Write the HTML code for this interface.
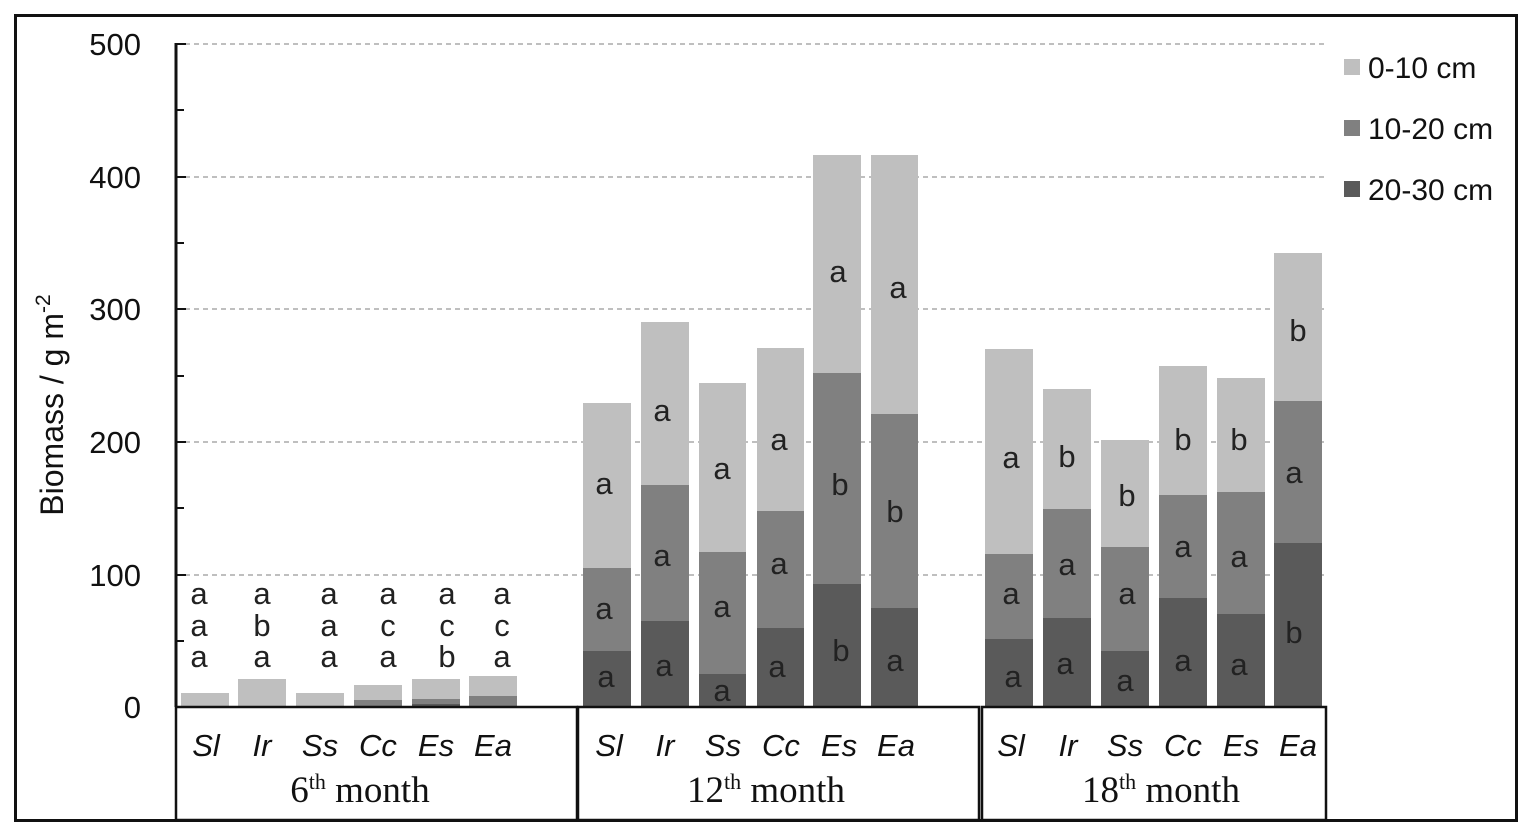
<!DOCTYPE html>
<html><head><meta charset="utf-8"><style>html,body{margin:0;padding:0;background:#fff}svg{display:block}</style></head>
<body>
<svg width="1535" height="837" viewBox="0 0 1535 837" xmlns="http://www.w3.org/2000/svg" font-family="Liberation Sans, sans-serif">
<rect x="15.5" y="15.5" width="1501" height="805" fill="none" stroke="#111" stroke-width="3"/>
<g stroke="#999" stroke-dasharray="5,4" stroke-width="1.2">
<line x1="176" y1="44" x2="1326" y2="44"/><line x1="176" y1="177" x2="1326" y2="177"/><line x1="176" y1="309" x2="1326" y2="309"/><line x1="176" y1="442" x2="1326" y2="442"/><line x1="176" y1="575" x2="1326" y2="575"/>
</g>
<g font-size="31" fill="#111" text-anchor="end">
<text x="141" y="55">500</text><text x="141" y="188">400</text><text x="141" y="320">300</text><text x="141" y="453">200</text><text x="141" y="586">100</text><text x="141" y="718">0</text>
</g>
<text transform="translate(63,405) rotate(-90)" font-size="32" fill="#111" text-anchor="middle">Biomass / g m<tspan dy="-13" font-size="21">-2</tspan></text>
<g>
<rect x="181" y="693" width="48" height="14" fill="#bfbfbf"/>
<rect x="238" y="679" width="48" height="28" fill="#bfbfbf"/>
<rect x="296" y="693" width="48" height="14" fill="#bfbfbf"/>
<rect x="354" y="685" width="48" height="22" fill="#bfbfbf"/><rect x="354" y="700" width="48" height="7" fill="#808080"/>
<rect x="412" y="679" width="48" height="28" fill="#bfbfbf"/><rect x="412" y="699" width="48" height="8" fill="#808080"/><rect x="412" y="704" width="48" height="3" fill="#5a5a5a"/>
<rect x="469" y="676" width="48" height="31" fill="#bfbfbf"/><rect x="469" y="696" width="48" height="11" fill="#808080"/>
</g>
<g font-size="31" fill="#222" text-anchor="middle">
<text x="199" y="604">a</text><text x="199" y="636">a</text><text x="199" y="667">a</text>
<text x="262" y="604">a</text><text x="262" y="636">b</text><text x="262" y="667">a</text>
<text x="329" y="604">a</text><text x="329" y="636">a</text><text x="329" y="667">a</text>
<text x="388" y="604">a</text><text x="388" y="636">c</text><text x="388" y="667">a</text>
<text x="447" y="604">a</text><text x="447" y="636">c</text><text x="447" y="667">b</text>
<text x="502" y="604">a</text><text x="502" y="636">c</text><text x="502" y="667">a</text>
</g>
<g>
<rect x="583" y="403" width="48" height="304" fill="#bfbfbf"/><rect x="583" y="568" width="48" height="139" fill="#808080"/><rect x="583" y="651" width="48" height="56" fill="#5a5a5a"/>
<rect x="641" y="322" width="48" height="385" fill="#bfbfbf"/><rect x="641" y="485" width="48" height="222" fill="#808080"/><rect x="641" y="621" width="48" height="86" fill="#5a5a5a"/>
<rect x="699" y="383" width="47" height="324" fill="#bfbfbf"/><rect x="699" y="552" width="47" height="155" fill="#808080"/><rect x="699" y="674" width="47" height="33" fill="#5a5a5a"/>
<rect x="757" y="348" width="47" height="359" fill="#bfbfbf"/><rect x="757" y="511" width="47" height="196" fill="#808080"/><rect x="757" y="628" width="47" height="79" fill="#5a5a5a"/>
<rect x="813" y="155" width="48" height="552" fill="#bfbfbf"/><rect x="813" y="373" width="48" height="334" fill="#808080"/><rect x="813" y="584" width="48" height="123" fill="#5a5a5a"/>
<rect x="871" y="155" width="47" height="552" fill="#bfbfbf"/><rect x="871" y="414" width="47" height="293" fill="#808080"/><rect x="871" y="608" width="47" height="99" fill="#5a5a5a"/>
<rect x="985" y="349" width="48" height="358" fill="#bfbfbf"/><rect x="985" y="554" width="48" height="153" fill="#808080"/><rect x="985" y="639" width="48" height="68" fill="#5a5a5a"/>
<rect x="1043" y="389" width="48" height="318" fill="#bfbfbf"/><rect x="1043" y="509" width="48" height="198" fill="#808080"/><rect x="1043" y="618" width="48" height="89" fill="#5a5a5a"/>
<rect x="1101" y="440" width="48" height="267" fill="#bfbfbf"/><rect x="1101" y="547" width="48" height="160" fill="#808080"/><rect x="1101" y="651" width="48" height="56" fill="#5a5a5a"/>
<rect x="1159" y="366" width="48" height="341" fill="#bfbfbf"/><rect x="1159" y="495" width="48" height="212" fill="#808080"/><rect x="1159" y="598" width="48" height="109" fill="#5a5a5a"/>
<rect x="1217" y="378" width="48" height="329" fill="#bfbfbf"/><rect x="1217" y="492" width="48" height="215" fill="#808080"/><rect x="1217" y="614" width="48" height="93" fill="#5a5a5a"/>
<rect x="1274" y="253" width="48" height="454" fill="#bfbfbf"/><rect x="1274" y="401" width="48" height="306" fill="#808080"/><rect x="1274" y="543" width="48" height="164" fill="#5a5a5a"/>
</g>
<g font-size="31" fill="#222" text-anchor="middle">
<text x="604" y="494">a</text><text x="604" y="619">a</text><text x="606" y="687">a</text>
<text x="662" y="421">a</text><text x="662" y="566">a</text><text x="664" y="676">a</text>
<text x="722" y="479">a</text><text x="722" y="617">a</text><text x="722" y="701">a</text>
<text x="779" y="450">a</text><text x="779" y="574">a</text><text x="777" y="677">a</text>
<text x="838" y="282">a</text><text x="840" y="495">b</text><text x="841" y="661">b</text>
<text x="898" y="298">a</text><text x="895" y="522">b</text><text x="895" y="671">a</text>
<text x="1011" y="468">a</text><text x="1011" y="604">a</text><text x="1013" y="687">a</text>
<text x="1067" y="467">b</text><text x="1067" y="575">a</text><text x="1065" y="674">a</text>
<text x="1127" y="506">b</text><text x="1127" y="604">a</text><text x="1125" y="691">a</text>
<text x="1183" y="450">b</text><text x="1183" y="557">a</text><text x="1183" y="671">a</text>
<text x="1239" y="450">b</text><text x="1239" y="567">a</text><text x="1239" y="675">a</text>
<text x="1298" y="341">b</text><text x="1294" y="483">a</text><text x="1294" y="643">b</text>
</g>
<line x1="176" y1="43" x2="176" y2="707" stroke="#111" stroke-width="3"/>
<g stroke="#111" stroke-width="2">
<line x1="176" y1="44" x2="186" y2="44"/><line x1="176" y1="110" x2="184" y2="110"/><line x1="176" y1="177" x2="186" y2="177"/><line x1="176" y1="243" x2="184" y2="243"/><line x1="176" y1="309" x2="186" y2="309"/><line x1="176" y1="376" x2="184" y2="376"/><line x1="176" y1="442" x2="186" y2="442"/><line x1="176" y1="508" x2="184" y2="508"/><line x1="176" y1="575" x2="186" y2="575"/><line x1="176" y1="641" x2="184" y2="641"/>
</g>
<g fill="none" stroke="#111" stroke-width="2.5">
<rect x="176" y="707" width="401" height="113"/>
<rect x="578" y="707" width="401" height="113"/>
<rect x="982" y="707" width="344" height="113"/>
</g>
<g font-size="31" font-style="italic" fill="#111" text-anchor="middle">
<text x="206" y="756">Sl</text><text x="262" y="756">Ir</text><text x="320" y="756">Ss</text><text x="378" y="756">Cc</text><text x="436" y="756">Es</text><text x="493" y="756">Ea</text>
<text x="609" y="756">Sl</text><text x="665" y="756">Ir</text><text x="723" y="756">Ss</text><text x="781" y="756">Cc</text><text x="839" y="756">Es</text><text x="896" y="756">Ea</text>
<text x="1011" y="756">Sl</text><text x="1068" y="756">Ir</text><text x="1125" y="756">Ss</text><text x="1183" y="756">Cc</text><text x="1241" y="756">Es</text><text x="1298" y="756">Ea</text>
</g>
<g font-family="Liberation Serif, serif" font-size="37" fill="#111" text-anchor="middle">
<text x="360" y="802">6<tspan dy="-13" font-size="22">th</tspan><tspan dy="13"> month</tspan></text>
<text x="766" y="802">12<tspan dy="-13" font-size="22">th</tspan><tspan dy="13"> month</tspan></text>
<text x="1161" y="802">18<tspan dy="-13" font-size="22">th</tspan><tspan dy="13"> month</tspan></text>
</g>
<rect x="1344" y="59" width="16" height="16" fill="#bfbfbf"/>
<rect x="1344" y="120" width="16" height="16" fill="#808080"/>
<rect x="1344" y="181" width="16" height="16" fill="#5a5a5a"/>
<g font-size="30" fill="#111">
<text x="1368" y="78">0-10 cm</text><text x="1368" y="139">10-20 cm</text><text x="1368" y="200">20-30 cm</text>
</g>
</svg>
</body></html>
